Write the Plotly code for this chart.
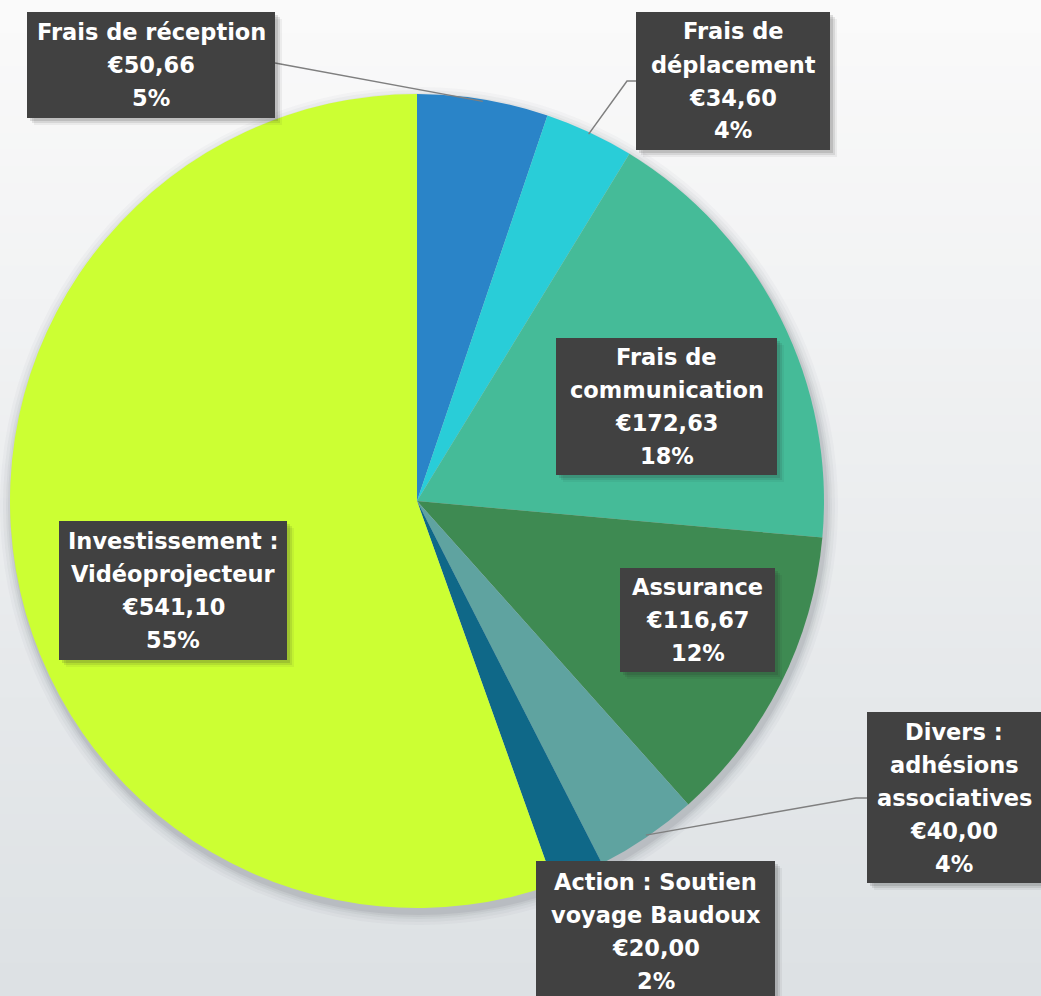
import plotly.graph_objects as go
import math

# ---- data ----
categories = ["Frais de réception", "Frais de déplacement", "Frais de communication",
              "Assurance", "Divers : adhésions associatives",
              "Action : Soutien voyage Baudoux", "Investissement : Vidéoprojecteur"]
label_lines = [["Frais de réception"], ["Frais de", "déplacement"], ["Frais de", "communication"],
               ["Assurance"], ["Divers :", "adhésions", "associatives"],
               ["Action : Soutien", "voyage Baudoux"], ["Investissement :", "Vidéoprojecteur"]]
values = [50.66, 34.60, 172.63, 116.67, 40.00, 20.00, 541.10]
colors = ["#2a84c8", "#29cdd8", "#45bb98", "#3e8a52", "#5fa3a0", "#0f6888", "#ccff33"]

# ---- layout geometry (pixels) ----
W, H = 1041, 996
CX, CY, R = 417, 501, 407
LINE_H = 33

def px(x):
    return x / W

def py(y):
    return 1 - y / H

total = sum(values)

shapes = []
# background vertical gradient
top = (250, 250, 250)
bot = (221, 225, 228)
N = 60
for i in range(N):
    t = i / (N - 1)
    c = tuple(round(top[k] + (bot[k] - top[k]) * t) for k in range(3))
    shapes.append(dict(type="rect", xref="paper", yref="paper", layer="below",
                       x0=0, x1=1, y0=py(H * (i + 1) / N) - 0.001, y1=py(H * i / N),
                       line=dict(width=0), fillcolor="rgb(%d,%d,%d)" % c))
# soft shadow behind the pie
for extra, op in [(12, 0.03), (9, 0.04), (6, 0.05), (4, 0.06), (2, 0.08)]:
    rr = R + extra
    shapes.append(dict(type="circle", xref="paper", yref="paper", layer="below",
                       x0=px(CX + 2 - rr), x1=px(CX + 2 + rr),
                       y0=py(CY + 5 + rr), y1=py(CY + 5 - rr),
                       line=dict(width=0), fillcolor="rgba(60,70,80,%.3f)" % op))

fig = go.Figure(go.Pie(
    labels=categories, values=values, sort=False, direction="clockwise", rotation=0,
    marker=dict(colors=colors, line=dict(width=0)),
    textinfo="none", showlegend=False,
    domain=dict(x=[px(CX - R), px(CX + R)], y=[py(CY + R), py(CY - R)]),
))

# label boxes: (center x, center y, width, height) in px
boxes = [
    (151, 65, 248, 106),
    (733, 81, 194, 138),
    (666.5, 406.5, 221, 137),
    (697.5, 620, 155, 104),
    (954, 797.5, 174, 171),
    (655.5, 931, 239, 140),
    (173, 590.5, 228, 139),
]

def fmt_eur(v):
    return "€" + ("%.2f" % v).replace(".", ",")

# leader lines from slice mid-points to boxes
def edge_point(idx, rr=R):
    start = sum(values[:idx])
    mid = (start + values[idx] / 2) / total * 2 * math.pi
    return CX + rr * math.sin(mid), CY - rr * math.cos(mid)

leaders = {
    0: [(275, 63)],
    1: [(636, 81), (627, 81)],
    4: [(867, 798), (856, 798)],
}
for idx, pts in leaders.items():
    ex, ey = edge_point(idx, R - 2)
    allpts = pts + [(ex, ey)]
    path = "M " + " L ".join("%.5f,%.5f" % (px(x), py(y)) for x, y in allpts)
    shapes.append(dict(type="path", xref="paper", yref="paper", layer="above",
                       path=path, line=dict(color="#7f7f7f", width=1.5)))

annotations = []
for lines, v, (bx, by, bw, bh) in zip(label_lines, values, boxes):
    # box shadow
    for off, op in [(7, 0.06), (5, 0.10), (3, 0.14)]:
        shapes.append(dict(type="rect", xref="paper", yref="paper", layer="above",
                           x0=px(bx - bw / 2 + off), x1=px(bx + bw / 2 + off),
                           y0=py(by + bh / 2 + off), y1=py(by - bh / 2 + off),
                           line=dict(width=0), fillcolor="rgba(40,40,40,%.2f)" % op))
    shapes.append(dict(type="rect", xref="paper", yref="paper", layer="above",
                       x0=px(bx - bw / 2), x1=px(bx + bw / 2),
                       y0=py(by + bh / 2), y1=py(by - bh / 2),
                       line=dict(width=0), fillcolor="#414141"))
    all_lines = lines + [fmt_eur(v), "%d%%" % round(v / total * 100)]
    n = len(all_lines)
    for k, line in enumerate(all_lines):
        ly = by + (k - (n - 1) / 2) * LINE_H
        annotations.append(dict(x=px(bx), y=py(ly), xref="paper", yref="paper",
                                xanchor="center", yanchor="middle", showarrow=False,
                                text=line, align="center",
                                font=dict(family="DejaVu Sans", size=22.5, color="white",
                                          weight="bold")))

fig.update_layout(width=W, height=H, margin=dict(l=0, r=0, t=0, b=0),
                  paper_bgcolor="#f4f5f6", plot_bgcolor="rgba(0,0,0,0)",
                  shapes=shapes, annotations=annotations)

fig.write_html("out.html", config={"displayModeBar": False},
               post_script="document.body.style.margin='0';document.body.style.overflow='hidden';")
